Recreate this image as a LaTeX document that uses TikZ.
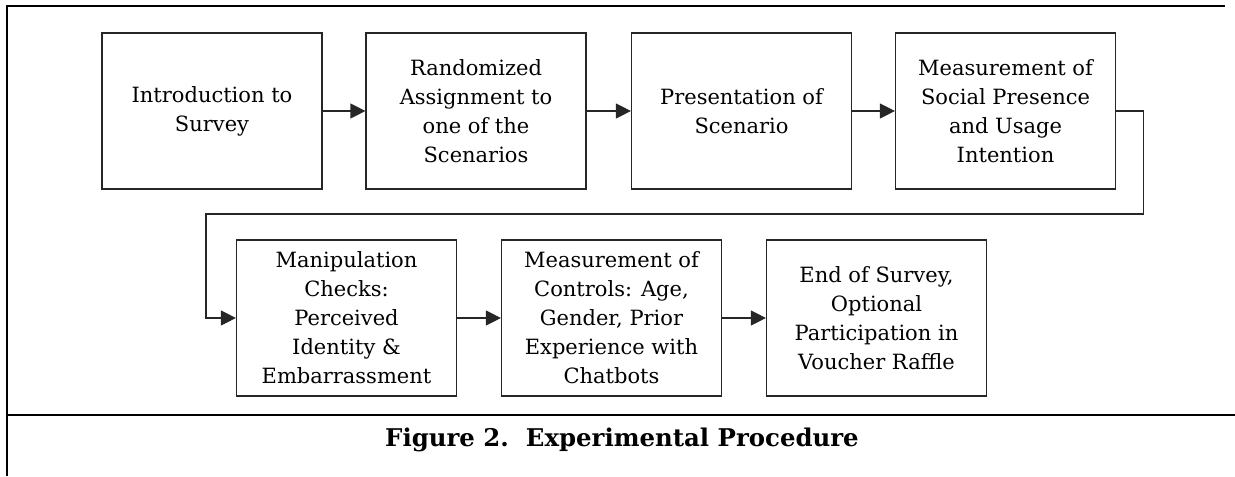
\documentclass[tikz,border=0pt]{standalone}
\usepackage{fontspec}
\setmainfont{DejaVu Serif}
\usepackage{tikz}
\usetikzlibrary{arrows.meta,positioning}

\tikzset{
    stepbox/.style={draw=black!85, line width=0.6pt, align=center,
        minimum width=110pt, minimum height=78pt, inner sep=2pt,
        font=\fontsize{10.5}{14.5}\selectfont},
    flow/.style={draw=black!85, line width=0.6pt,
        -{Triangle[length=7.5pt,width=7.5pt]}},
    frame/.style={line width=1.4pt}
}

\begin{document}
\begin{tikzpicture}[x=0.5pt,y=-0.5pt]
    \useasboundingbox (0,0) rectangle (1235,476);
    % frame round the figure
    \draw[frame] (7,476) -- (7,6) -- (1225,6);
    \draw[frame] (7,415) -- (1235,415);
    % first row
    \node[stepbox] (intro) at (212,111) {Introduction to\\Survey};
    \node[stepbox] (assign) at (476,111) {Randomized\\Assignment to\\one of the\\Scenarios};
    \node[stepbox] (scen) at (741.5,111) {Presentation of\\Scenario};
    \node[stepbox] (meas) at (1005.5,111) {Measurement of\\Social Presence\\and Usage\\Intention};
    % second row
    \node[stepbox] (manip) at (346.5,318) {Manipulation\\Checks:\\Perceived\\Identity \&\\Embarrassment};
    \node[stepbox] (ctrl) at (611.5,318) {Measurement of\\Controls: Age,\\Gender, Prior\\Experience with\\Chatbots};
    \node[stepbox] (end) at (876.5,318) {End of Survey,\\Optional\\Participation in\\Voucher Raffle};
    % connectors
    \draw[flow] (intro) -- (assign);
    \draw[flow] (assign) -- (scen);
    \draw[flow] (scen) -- (meas);
    \draw[flow] (meas.east) -- ++(27,0) |- (206,214) |- (manip.west);
    \draw[flow] (manip) -- (ctrl);
    \draw[flow] (ctrl) -- (end);
    % caption
    \node[font=\fontsize{12.2}{14}\selectfont\bfseries] (cap) at (622,440) {Figure 2.\ \ Experimental Procedure};
\end{tikzpicture}
\end{document}
